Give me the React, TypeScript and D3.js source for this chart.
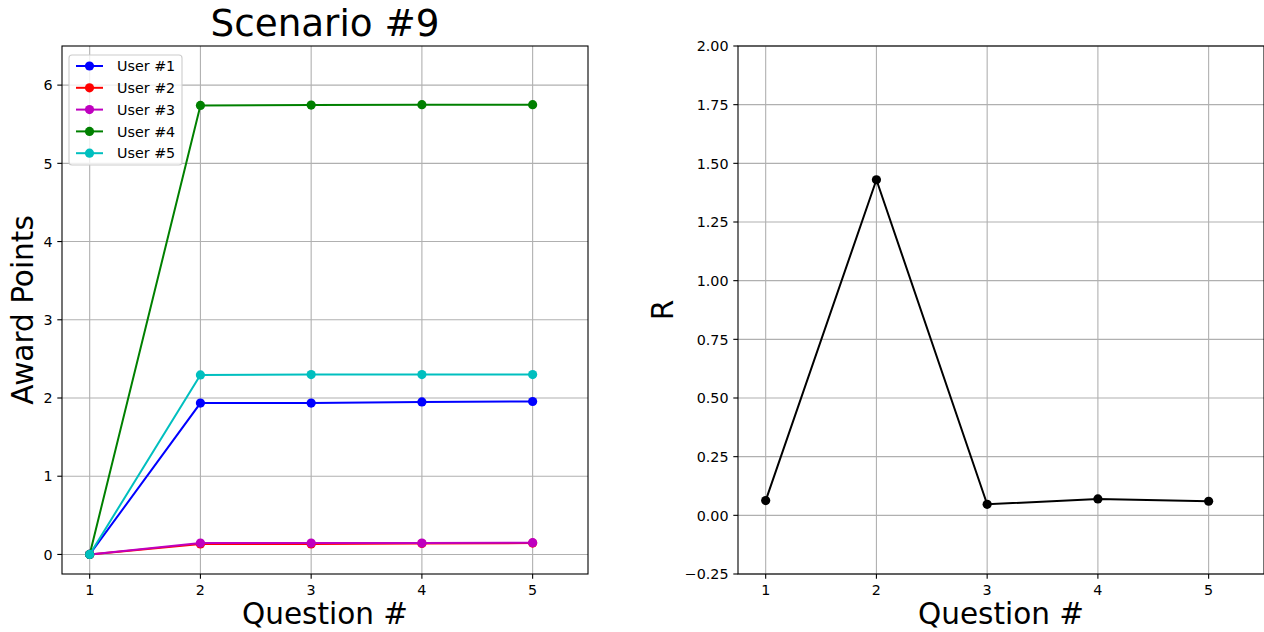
import React from "react";
import * as d3 from "d3";

const questions = [1, 2, 3, 4, 5];
const userNames = ["User #1", "User #2", "User #3", "User #4", "User #5"];
const userColors = ["#0000ff", "#ff0000", "#bf00bf", "#008000", "#00bfbf"];
const user1 = [0, 1.935, 1.935, 1.95, 1.955];
const user2 = [0, 0.135, 0.135, 0.14, 0.145];
const user3 = [0, 0.145, 0.145, 0.145, 0.15];
const user4 = [0, 5.74, 5.745, 5.75, 5.75];
const user5 = [0, 2.295, 2.3, 2.3, 2.3];
const rValues = [0.063, 1.43, 0.047, 0.07, 0.06];
const leftYTicks = [0, 1, 2, 3, 4, 5, 6];
const rightYTicks = [-0.25, 0, 0.25, 0.5, 0.75, 1.0, 1.25, 1.5, 1.75, 2.0];

const FONT = "DejaVu Sans, sans-serif";
const TICK_FS = 14.3;
const LABEL_FS = 29.5;

function Panel({ x0, x1, y0, y1, yDomain, yTicks, fmt, series, colors, xLabel, yLabel, yLabelX, title, legend }: any) {
  const xs = d3.scaleLinear().domain([0.75, 5.5]).range([x0, x1]);
  const ys = d3.scaleLinear().domain(yDomain).range([y1, y0]);
  const line = d3.line<number>().x((_, i) => xs(questions[i])).y((d) => ys(d));
  return (
    <g>
      {questions.map((q) => (
        <line key={"gx" + q} x1={xs(q)} x2={xs(q)} y1={y0} y2={y1} stroke="#b0b0b0" strokeWidth={1.1} />
      ))}
      {yTicks.map((t: number) => (
        <line key={"gy" + t} x1={x0} x2={x1} y1={ys(t)} y2={ys(t)} stroke="#b0b0b0" strokeWidth={1.1} />
      ))}
      {series.map((s: number[], i: number) => (
        <g key={"s" + i}>
          <path d={line(s) || ""} fill="none" stroke={colors[i]} strokeWidth={2} />
          {s.map((v, j) => (
            <circle key={j} cx={xs(questions[j])} cy={ys(v)} r={4.6} fill={colors[i]} />
          ))}
        </g>
      ))}
      <rect x={x0} y={y0} width={x1 - x0} height={y1 - y0} fill="none" stroke="#000" strokeWidth={1.1} />
      {questions.map((q) => (
        <g key={"tx" + q}>
          <line x1={xs(q)} x2={xs(q)} y1={y1} y2={y1 + 4.7} stroke="#000" strokeWidth={1.1} />
          <text x={xs(q)} y={y1 + 21} textAnchor="middle" fontSize={TICK_FS} fontFamily={FONT}>{q}</text>
        </g>
      ))}
      {yTicks.map((t: number) => (
        <g key={"ty" + t}>
          <line x1={x0 - 4.7} x2={x0} y1={ys(t)} y2={ys(t)} stroke="#000" strokeWidth={1.1} />
          <text x={x0 - 9.5} y={ys(t) + 5.2} textAnchor="end" fontSize={TICK_FS} fontFamily={FONT}>{fmt(t)}</text>
        </g>
      ))}
      <text x={(x0 + x1) / 2} y={y1 + 50} textAnchor="middle" fontSize={LABEL_FS} fontFamily={FONT}>{xLabel}</text>
      <text transform={`translate(${yLabelX},${(y0 + y1) / 2}) rotate(-90)`} textAnchor="middle" fontSize={LABEL_FS} fontFamily={FONT}>{yLabel}</text>
      {title && (
        <text x={(x0 + x1) / 2} y={y0 - 10} textAnchor="middle" fontSize={37.3} fontFamily={FONT}>{title}</text>
      )}
      {legend && (
        <g>
          <rect x={x0 + 7} y={y0 + 9} width={113} height={110} rx={3} fill="#fff" fillOpacity={0.8} stroke="#cccccc" strokeWidth={1.1} />
          {userNames.map((n, i) => {
            const ly = y0 + 20 + i * 21.8;
            return (
              <g key={n}>
                <line x1={x0 + 14} x2={x0 + 41} y1={ly} y2={ly} stroke={colors[i]} strokeWidth={2} />
                <circle cx={x0 + 27.5} cy={ly} r={4.6} fill={colors[i]} />
                <text x={x0 + 55} y={ly + 5.2} fontSize={TICK_FS} fontFamily={FONT}>{n}</text>
              </g>
            );
          })}
        </g>
      )}
    </g>
  );
}

export default function App() {
  return (
    <svg width={1264} height={632} style={{ position: "absolute", left: 0, top: 0, background: "#fff" }}>
      <Panel
        x0={62} x1={588} y0={46} y1={574}
        yDomain={[-0.25, 6.5]} yTicks={leftYTicks} fmt={(t: number) => d3.format("d")(t)}
        series={[user1, user2, user3, user4, user5]} colors={userColors}
        xLabel="Question #" yLabel="Award Points" yLabelX={33} title="Scenario #9" legend
      />
      <Panel
        x0={738} x1={1264} y0={46} y1={574}
        yDomain={[-0.25, 2.0]} yTicks={rightYTicks} fmt={(t: number) => (t < 0 ? "\u2212" : "") + d3.format(".2f")(Math.abs(t))}
        series={[rValues]} colors={["#000000"]}
        xLabel="Question #" yLabel="R" yLabelX={673}
      />
    </svg>
  );
}
